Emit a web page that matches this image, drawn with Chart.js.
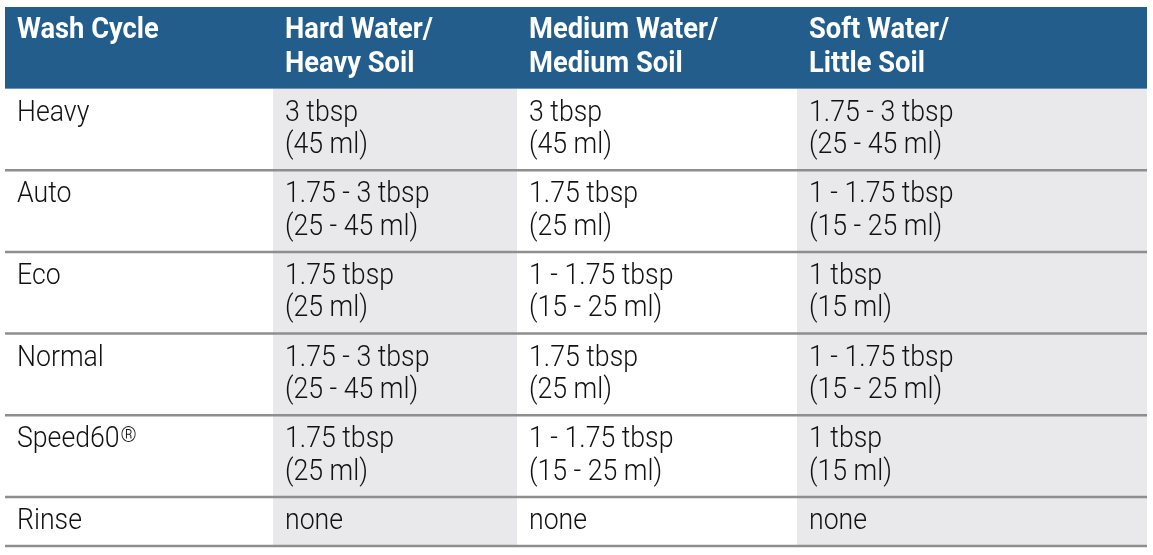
<!DOCTYPE html>
<html><head><meta charset="utf-8">
<script src="https://cdn.jsdelivr.net/npm/chart.js@4.4.1/dist/chart.umd.min.js"></script>
<style>html,body{margin:0;padding:0;background:#fff}#wrap{width:1153px;height:555px;position:relative}</style>
</head><body><div id="wrap"><canvas id="c"></canvas></div>
<script>
// ---- data ----
const headers = [['Wash Cycle'], ['Hard Water/', 'Heavy Soil'], ['Medium Water/', 'Medium Soil'], ['Soft Water/', 'Little Soil']];
const cycles = ['Heavy', 'Auto', 'Eco', 'Normal', 'Speed60®', 'Rinse'];
const hardTbsp = ['3 tbsp', '1.75 - 3 tbsp', '1.75 tbsp', '1.75 - 3 tbsp', '1.75 tbsp', 'none'];
const hardMl = ['(45 ml)', '(25 - 45 ml)', '(25 ml)', '(25 - 45 ml)', '(25 ml)', ''];
const mediumTbsp = ['3 tbsp', '1.75 tbsp', '1 - 1.75 tbsp', '1.75 tbsp', '1 - 1.75 tbsp', 'none'];
const mediumMl = ['(45 ml)', '(25 ml)', '(15 - 25 ml)', '(25 ml)', '(15 - 25 ml)', ''];
const softTbsp = ['1.75 - 3 tbsp', '1 - 1.75 tbsp', '1 tbsp', '1 - 1.75 tbsp', '1 tbsp', 'none'];
const softMl = ['(25 - 45 ml)', '(15 - 25 ml)', '(15 ml)', '(15 - 25 ml)', '(15 ml)', ''];

// ---- layout / style ----
const colWidths = [268, 244, 280, 350];
const shadedCols = [1, 3];
const LINE = 32.5, HEAD_LINE = 34, ROWPAD = 16.5, HEAD_BASE = 30.5, BASE = 32, TEXTPAD = 12;
const BODY_FONT = '300 29px Roboto, "Liberation Sans", sans-serif';
const HEAD_FONT = 'bold 30px Roboto, "Liberation Sans", sans-serif';
const SUP_FONT = '300 22px Roboto, "Liberation Sans", sans-serif';
const BODY_SX = 0.92, HEAD_SX = 0.91;
const HEAD_BG = '#225d8b', SHADE = '#e9e9eb', RULE = '#8e8e8e', INK = '#111111';

function cellLines(r, c) {
  const cols = [[cycles[r]], [hardTbsp[r], hardMl[r]], [mediumTbsp[r], mediumMl[r]], [softTbsp[r], softMl[r]]];
  return cols[c].filter(s => s !== '');
}
const rowLineCounts = [Math.max(...headers.map(h => h.length))];
cycles.forEach((_, r) => rowLineCounts.push(Math.max(...[0,1,2,3].map(c => cellLines(r, c).length))));
const rowEdges = [0];
rowLineCounts.forEach(n => rowEdges.push(rowEdges[rowEdges.length - 1] + n * LINE + ROWPAD));
const colEdges = [0];
colWidths.forEach(w => colEdges.push(colEdges[colEdges.length - 1] + w));

function drawText(ctx, s, x, y, sx) {
  ctx.save();
  ctx.translate(x, y);
  ctx.scale(sx, 1);
  const i = s.indexOf('®');
  if (i < 0) { ctx.fillText(s, 0, 0); ctx.restore(); return; }
  const main = s.slice(0, i);
  ctx.fillText(main, 0, 0);
  const w = ctx.measureText(main).width;
  ctx.font = SUP_FONT;
  ctx.fillText('®', w + 1, -5);
  ctx.restore();
}

const tablePlugin = {
  id: 'table',
  beforeDatasetsDraw(chart) {
    const ctx = chart.ctx, xs = chart.scales.x, ys = chart.scales.y;
    const X = v => xs.getPixelForValue(v), Y = v => ys.getPixelForValue(v);
    const xEnd = colEdges[colEdges.length - 1], yEnd = rowEdges[rowEdges.length - 1];
    ctx.save();
    ctx.fillStyle = SHADE;
    shadedCols.forEach(c => {
      ctx.fillRect(X(colEdges[c]), Y(rowEdges[1]), X(colEdges[c + 1]) - X(colEdges[c]), Y(yEnd) - Y(rowEdges[1]));
    });
    ctx.fillStyle = HEAD_BG;
    ctx.fillRect(X(0), Y(0), X(xEnd) - X(0), Y(rowEdges[1]) - Y(0));
    ctx.strokeStyle = RULE; ctx.lineWidth = 2.5;
    for (let k = 2; k < rowEdges.length; k++) {
      const y = Y(rowEdges[k]);
      ctx.beginPath(); ctx.moveTo(X(0), y); ctx.lineTo(X(xEnd), y); ctx.stroke();
    }
    ctx.textBaseline = 'alphabetic'; ctx.textAlign = 'left';
    ctx.fillStyle = '#ffffff';
    ctx.font = HEAD_FONT;
    headers.forEach((h, c) => h.forEach((s, li) => {
      drawText(ctx, s, X(colEdges[c]) + TEXTPAD, Y(rowEdges[0]) + HEAD_BASE + li * HEAD_LINE, HEAD_SX);
    }));
    ctx.fillStyle = INK;
    ctx.font = BODY_FONT;
    cycles.forEach((_, r) => {
      for (let c = 0; c < 4; c++) {
        cellLines(r, c).forEach((s, li) => {
          drawText(ctx, s, X(colEdges[c]) + TEXTPAD, Y(rowEdges[r + 1]) + BASE + li * LINE, BODY_SX);
        });
      }
    });
    ctx.restore();
  }
};

new Chart(document.getElementById('c'), {
  type: 'scatter',
  data: { datasets: [] },
  options: {
    responsive: true, maintainAspectRatio: false, animation: false,
    layout: { padding: { left: 5, top: 7, right: 6, bottom: 9 } },
    plugins: { legend: { display: false }, tooltip: { enabled: false } },
    scales: {
      x: { type: 'linear', display: false, min: 0, max: colEdges[colEdges.length - 1] },
      y: { type: 'linear', display: false, min: 0, max: rowEdges[rowEdges.length - 1], reverse: true }
    }
  },
  plugins: [tablePlugin]
});
</script>
</body></html>
